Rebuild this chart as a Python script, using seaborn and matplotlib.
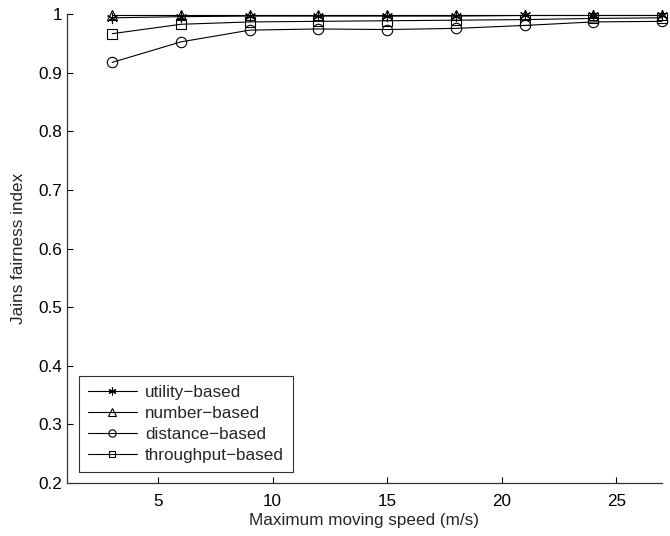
import numpy as np
import matplotlib
matplotlib.use("Agg")
import matplotlib.pyplot as plt
import seaborn as sns

speed = [3, 6, 9, 12, 15, 18, 21, 24, 27]
utility_based = [0.994, 0.996, 0.997, 0.997, 0.997, 0.997, 0.998, 0.998, 0.998]
number_based = [0.999, 0.999, 0.999, 0.999, 0.999, 0.999, 0.999, 0.999, 0.999]
distance_based = [0.918, 0.953, 0.973, 0.975, 0.974, 0.976, 0.981, 0.987, 0.988]
throughput_based = [0.967, 0.983, 0.987, 0.988, 0.989, 0.990, 0.991, 0.993, 0.994]

sns.set_style("ticks")
plt.rcParams['font.family'] = ['Liberation Sans', 'DejaVu Sans']
fs = 12.3

fig = plt.figure(figsize=(6.7, 5.36), dpi=100)
ax = fig.add_axes([0.0993, 0.0989, 0.8888, 0.8744])

# matlab-style asterisk
asterisk = (6, 2, 0)
series = [
    (utility_based, asterisk, 8, 'utility\u2212based'),
    (number_based, '^', 7.5, 'number\u2212based'),
    (distance_based, 'o', 7.5, 'distance\u2212based'),
    (throughput_based, 's', 6.5, 'throughput\u2212based'),
]
for vals, mk, ms, lab in series:
    sns.lineplot(x=speed, y=vals, ax=ax, color='black', linewidth=0.8,
                 marker=mk, markersize=ms, markerfacecolor='none',
                 markeredgecolor='black', markeredgewidth=0.8,
                 label=lab, clip_on=False)

ax.set_xlim(1, 27)
ax.set_ylim(0.2, 1)
ax.set_xticks([5, 10, 15, 20, 25])
ax.set_yticks([0.2, 0.3, 0.4, 0.5, 0.6, 0.7, 0.8, 0.9, 1.0])
ax.set_yticklabels(['0.2', '0.3', '0.4', '0.5', '0.6', '0.7', '0.8', '0.9', '1'])
ax.tick_params(direction='in', length=4.5, width=0.8, labelsize=fs, colors='black')
ax.tick_params(axis='x', pad=8)
ax.tick_params(axis='y', pad=3)
for s in ['top', 'right']:
    ax.spines[s].set_visible(False)
for s in ['left', 'bottom']:
    ax.spines[s].set_linewidth(0.9)
    ax.spines[s].set_color('#333333')
ax.set_xlabel('Maximum moving speed (m/s)', fontsize=fs, labelpad=3)
ax.set_ylabel('Jains fairness index', fontsize=fs, labelpad=9)

leg = ax.legend(loc='lower left', bbox_to_anchor=(0.021, 0.0235), fontsize=fs,
                frameon=True, fancybox=False, edgecolor='black',
                handlelength=2.87, handletextpad=0.5, borderpad=0.5,
                borderaxespad=0, labelspacing=0.36, markerscale=0.7)
leg.get_frame().set_linewidth(0.8)

fig.savefig('out.png', dpi=100)
